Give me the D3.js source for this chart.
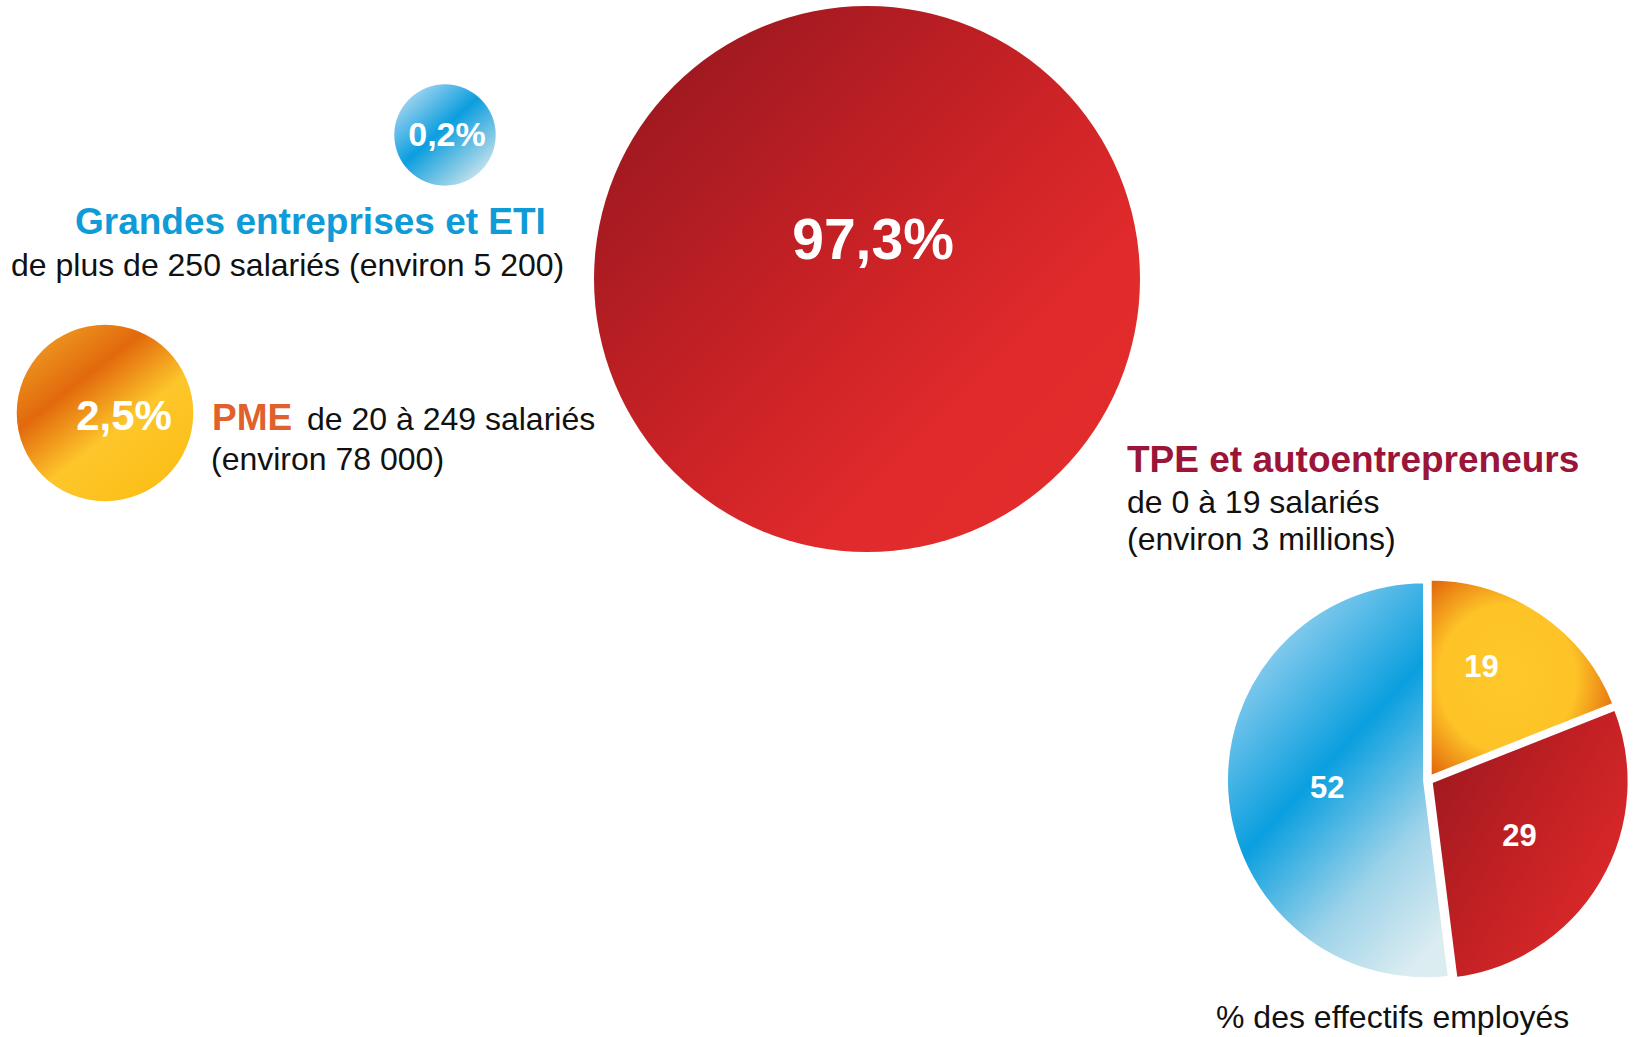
<!DOCTYPE html>
<html>
<head>
<meta charset="UTF-8">
<title>Entreprises</title>
<script src="https://cdn.jsdelivr.net/npm/d3@7"></script>
<style>
  body { margin: 0; background: #fff; }
  text { font-family: "Liberation Sans", Arial, sans-serif; }
</style>
</head>
<body>
<svg id="chart" width="1639" height="1037"></svg>
<script>
// données
var categories = ["Grandes entreprises et ETI", "PME", "TPE et autoentrepreneurs"];
var shares = [0.2, 2.5, 97.3];            // % des entreprises
var subtitles = [
  ["de plus de 250 salariés (environ 5 200)"],
  ["de 20 à 249 salariés", "(environ 78 000)"],
  ["de 0 à 19 salariés", "(environ 3 millions)"]
];
var employShare = [52, 19, 29];            // % des effectifs employés
var pieOrder = [1, 2, 0];                  // PME, TPE, Grandes (sens horaire depuis midi)
var pieCaption = "% des effectifs employés";

var fr = d3.formatLocale({decimal: ",", thousands: " ", grouping: [3], currency: ["", " €"]});
var pct = function(v) { return fr.format(".1f")(v) + "%"; };

var svg = d3.select("#chart");
var defs = svg.append("defs");

// dégradés
function linGrad(id, x1, y1, x2, y2, stops) {
  var g = defs.append("linearGradient").attr("id", id)
    .attr("x1", x1).attr("y1", y1).attr("x2", x2).attr("y2", y2);
  stops.forEach(function(s) {
    g.append("stop").attr("offset", s[0]).attr("stop-color", s[1]);
  });
}
linGrad("gBlue", 0.1, 0.05, 0.9, 0.95, [[0, "#b6dcf2"], [0.45, "#0b9edf"], [0.8, "#8fcde6"], [1, "#dcedf1"]]);
linGrad("gOrange", 0.15, 0.05, 0.85, 0.95, [[0, "#ee9a22"], [0.3, "#e2690c"], [0.6, "#fdc62b"], [1, "#fcbe14"]]);
linGrad("gRed", 0.1, 0.1, 0.85, 0.85, [[0, "#9b181f"], [0.5, "#c92226"], [0.8, "#e02a2b"], [1, "#e22c2c"]]);
linGrad("gPieBlue", 0.2, 0, 0.8, 1, [[0, "#b3dbf2"], [0.45, "#0a9fdf"], [0.75, "#9ed3e9"], [1, "#dcedf1"]]);
linGrad("gPieRed", 0, 0.1, 1, 0.9, [[0, "#9b181f"], [0.5, "#c42124"], [1, "#e42c2d"]]);
var rg = defs.append("radialGradient").attr("id", "gPieOrange")
  .attr("cx", 0.42).attr("cy", 0.5).attr("r", 0.62);
rg.append("stop").attr("offset", 0).attr("stop-color", "#fec82b");
rg.append("stop").attr("offset", 0.6).attr("stop-color", "#fdc327");
rg.append("stop").attr("offset", 1).attr("stop-color", "#e36a0c");

var fills = ["url(#gBlue)", "url(#gOrange)", "url(#gRed)"];
var pieFills = ["url(#gPieBlue)", "url(#gPieOrange)", "url(#gPieRed)"];
var titleColors = ["#0f9bd7", "#e0612b", "#9a1538"];

// taille des bulles
var rScale = d3.scaleLinear().domain([0.2, 2.5, 97.3]).range([50.7, 88.3, 273]);

// mise en page
var layout = [
  {cx: 445, cy: 135, lx: 447, ly: 146, fs: 34,
   tx: 75, ty: 234, sx: 11, sy: 276},
  {cx: 105, cy: 413, lx: 124, ly: 430, fs: 42,
   tx: 212, ty: 430, sx: 307, sy: 430, s2x: 211, s2y: 470},
  {cx: 867, cy: 279, lx: 873, ly: 259, fs: 57,
   tx: 1127, ty: 472, sx: 1127, sy: 513, s2x: 1127, s2y: 550}
];
// décalage des étiquettes du camembert
var pieNudge = [[10, 0], [-9, -22], [-4, -2]];

var bubbles = svg.selectAll("g.bubble").data(shares).enter()
  .append("g").attr("class", "bubble");

bubbles.append("circle")
  .attr("cx", function(d, i) { return layout[i].cx; })
  .attr("cy", function(d, i) { return layout[i].cy; })
  .attr("r", function(d) { return rScale(d); })
  .attr("fill", function(d, i) { return fills[i]; });

bubbles.append("text")
  .attr("x", function(d, i) { return layout[i].lx; })
  .attr("y", function(d, i) { return layout[i].ly; })
  .attr("text-anchor", "middle")
  .attr("fill", "#fff")
  .attr("font-weight", "bold")
  .attr("font-size", function(d, i) { return layout[i].fs; })
  .text(function(d) { return pct(d); });

// titres et sous-titres
categories.forEach(function(c, i) {
  var L = layout[i];
  svg.append("text")
    .attr("x", L.tx).attr("y", L.ty)
    .attr("fill", titleColors[i])
    .attr("font-weight", "bold")
    .attr("font-size", 37)
    .text(c);
  svg.append("text")
    .attr("x", L.sx).attr("y", L.sy)
    .attr("fill", "#111")
    .attr("font-size", 32)
    .text(subtitles[i][0]);
  if (subtitles[i][1]) {
    svg.append("text")
      .attr("x", L.s2x).attr("y", L.s2y)
      .attr("fill", "#111")
      .attr("font-size", 32)
      .text(subtitles[i][1]);
  }
});

// camembert
var pieData = pieOrder.map(function(k) { return {k: k, v: employShare[k]}; });
var pie = d3.pie().sort(null).value(function(d) { return d.v; });
var R = 199;
var arc = d3.arc().innerRadius(0).outerRadius(R);
var labelArc = d3.arc().innerRadius(108).outerRadius(108);

var pg = svg.append("g").attr("transform", "translate(1428,780)");
var slices = pg.selectAll("g.slice").data(pie(pieData)).enter()
  .append("g").attr("class", "slice")
  .attr("transform", function(d) {
    var a = (d.startAngle + d.endAngle) / 2;
    return "translate(" + (3 * Math.sin(a)) + "," + (-3 * Math.cos(a)) + ")";
  });

slices.append("path")
  .attr("d", arc)
  .attr("fill", function(d) { return pieFills[d.data.k]; })
  .attr("stroke", "#fff")
  .attr("stroke-width", 4);

slices.append("text")
  .attr("transform", function(d) {
    var c = labelArc.centroid(d), n = pieNudge[d.data.k];
    return "translate(" + (c[0] + n[0]) + "," + (c[1] + 11 + n[1]) + ")";
  })
  .attr("text-anchor", "middle")
  .attr("fill", "#fff")
  .attr("font-weight", "bold")
  .attr("font-size", 31)
  .text(function(d) { return d.data.v; });

svg.append("text")
  .attr("x", 1216).attr("y", 1028)
  .attr("fill", "#111")
  .attr("font-size", 32)
  .text(pieCaption);
</script>
</body>
</html>
